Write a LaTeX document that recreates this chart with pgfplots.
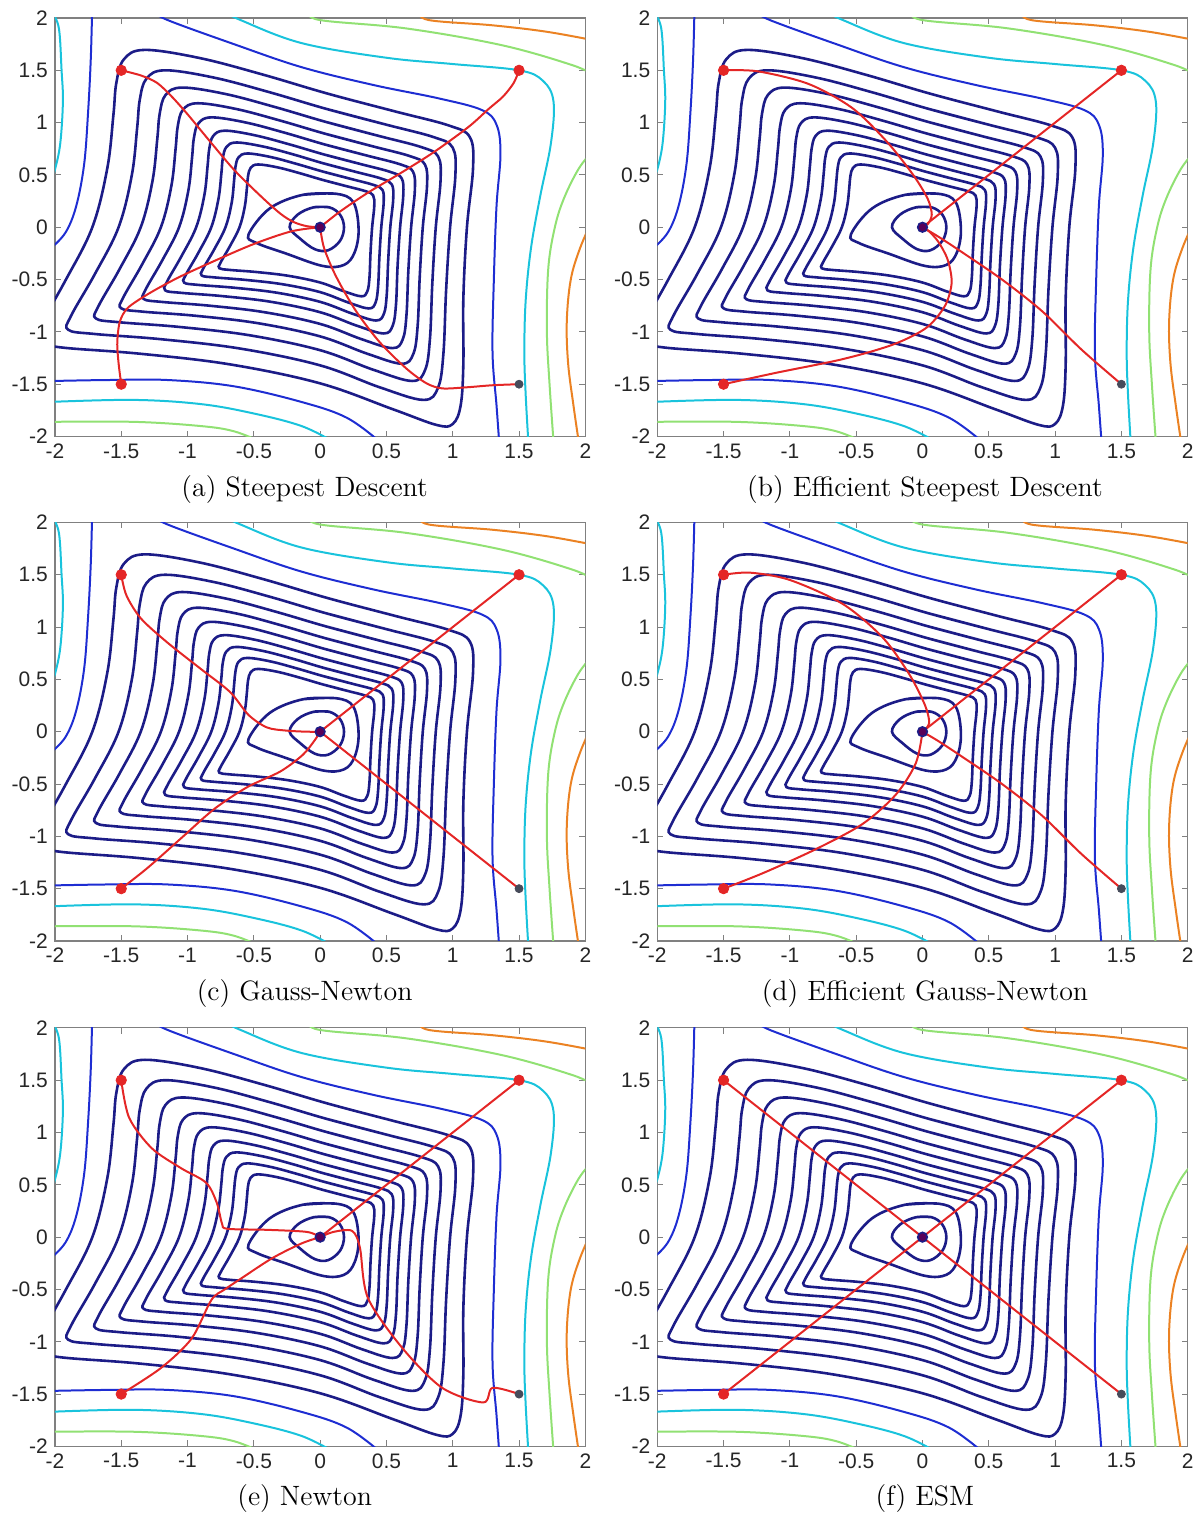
\documentclass[border=0pt]{standalone}
\usepackage{pgfplots}
\pgfplotsset{compat=1.18}
\usepackage{fontspec}
\setsansfont{Liberation Sans}
\definecolor{cnavy}{RGB}{28,28,135}
\definecolor{cblue}{RGB}{30,45,210}
\definecolor{ccyan}{RGB}{25,195,220}
\definecolor{cgreen}{RGB}{145,225,115}
\definecolor{corange}{RGB}{235,130,35}
\definecolor{cred}{RGB}{228,38,38}
\definecolor{cgrey}{RGB}{70,75,90}
\pgfplotsset{
 panel/.style={scale only axis, width=265.5pt, height=209.5pt, anchor=south west,
  xmin=-2,xmax=2,ymin=-2,ymax=2,
  xtick={-2,-1.5,-1,-0.5,0,0.5,1,1.5,2}, ytick={-2,-1.5,-1,-0.5,0,0.5,1,1.5,2},
  xticklabels={-2,-1.5,-1,-0.5,0,0.5,1,1.5,2}, yticklabels={-2,-1.5,-1,-0.5,0,0.5,1,1.5,2},
  tick label style={font=\sffamily\fontsize{10.5}{11}\selectfont, text=black!85},
  axis line style={black!50, line width=0.6pt}, tick style={black!50, line width=0.5pt},
  major tick length=3pt, clip=true},
 cn/.style={cnavy, smooth, tension=0.6, line width=1.3pt, no markers},
 co/.style={smooth, tension=0.6, line width=1pt, no markers},
 rp/.style={cred, smooth, tension=0.5, line width=1pt, no markers},
}
\newcommand{\contours}{%
% C1
\addplot[cn] coordinates {(-0.05,0.19) (0.07,0.19) (0.15,0.12) (0.18,0.0) (0.15,-0.13) (0.06,-0.22) (-0.04,-0.21) (-0.15,-0.11) (-0.23,0.0) (-0.17,0.12) (-0.05,0.19) (0.07,0.19)};
% C2
\addplot[cn] coordinates {(-0.13,0.31) (0.12,0.32) (0.25,0.24) (0.29,-0.02) (0.26,-0.24) (0.18,-0.36) (0.02,-0.37) (-0.26,-0.25) (-0.48,-0.15) (-0.54,-0.07) (-0.38,0.18) (-0.13,0.31) (0.12,0.32)};
% C3
\addplot[cn] coordinates {(0.02,0.452) (0.20,0.392) (0.344,0.344) (0.40,0.304) (0.408,0.20) (0.392,0) (0.38,-0.24) (0.372,-0.48) (0.356,-0.612) (0.312,-0.66) (0.18,-0.612) (0,-0.528) (-0.24,-0.464) (-0.48,-0.428) (-0.68,-0.408) (-0.76,-0.392) (-0.752,-0.34) (-0.68,-0.18) (-0.608,0) (-0.568,0.20) (-0.552,0.38) (-0.544,0.488) (-0.524,0.568) (-0.468,0.60) (-0.32,0.572) (-0.152,0.516) (0.02,0.452) (0.20,0.392)};
% C4
\addplot[cn] coordinates {(0.024,0.531) (0.235,0.461) (0.404,0.404) (0.47,0.357) (0.479,0.235) (0.461,0) (0.447,-0.282) (0.437,-0.564) (0.418,-0.719) (0.367,-0.776) (0.212,-0.719) (0,-0.620) (-0.282,-0.545) (-0.564,-0.503) (-0.799,-0.479) (-0.893,-0.461) (-0.884,-0.40) (-0.799,-0.212) (-0.714,0) (-0.667,0.235) (-0.649,0.447) (-0.639,0.573) (-0.616,0.667) (-0.550,0.705) (-0.376,0.672) (-0.179,0.606) (0.024,0.531) (0.235,0.461)};
% C5
\addplot[cn] coordinates {(0.027,0.610) (0.27,0.529) (0.464,0.464) (0.54,0.410) (0.551,0.27) (0.529,0) (0.513,-0.324) (0.502,-0.648) (0.481,-0.826) (0.421,-0.891) (0.243,-0.826) (0,-0.713) (-0.324,-0.626) (-0.648,-0.578) (-0.918,-0.551) (-1.026,-0.529) (-1.015,-0.459) (-0.918,-0.243) (-0.821,0) (-0.767,0.27) (-0.745,0.513) (-0.734,0.659) (-0.707,0.767) (-0.632,0.81) (-0.432,0.772) (-0.205,0.697) (0.027,0.610) (0.27,0.529)};
% C6
\addplot[cn] coordinates {(0.031,0.695) (0.308,0.603) (0.529,0.529) (0.615,0.467) (0.627,0.308) (0.603,0) (0.584,-0.369) (0.572,-0.738) (0.547,-0.941) (0.480,-1.015) (0.277,-0.941) (0,-0.812) (-0.369,-0.713) (-0.738,-0.658) (-1.046,-0.627) (-1.169,-0.603) (-1.156,-0.523) (-1.046,-0.277) (-0.935,0) (-0.873,0.308) (-0.849,0.584) (-0.836,0.750) (-0.806,0.873) (-0.720,0.923) (-0.492,0.879) (-0.234,0.793) (0.031,0.695) (0.308,0.603)};
% C7
\addplot[cn] coordinates {(0.035,0.791) (0.35,0.686) (0.602,0.602) (0.70,0.532) (0.714,0.35) (0.686,0) (0.665,-0.42) (0.651,-0.84) (0.623,-1.071) (0.546,-1.155) (0.315,-1.071) (0,-0.924) (-0.42,-0.812) (-0.84,-0.749) (-1.19,-0.714) (-1.33,-0.686) (-1.316,-0.595) (-1.19,-0.315) (-1.064,0) (-0.994,0.35) (-0.966,0.665) (-0.952,0.854) (-0.917,0.994) (-0.819,1.05) (-0.56,1.001) (-0.266,0.903) (0.035,0.791) (0.35,0.686)};
% C8
\addplot[cn] coordinates {(0.040,0.893) (0.395,0.774) (0.679,0.679) (0.79,0.600) (0.806,0.395) (0.774,0) (0.751,-0.474) (0.735,-0.948) (0.703,-1.209) (0.616,-1.304) (0.356,-1.209) (0,-1.043) (-0.474,-0.916) (-0.948,-0.845) (-1.343,-0.806) (-1.501,-0.774) (-1.485,-0.672) (-1.343,-0.356) (-1.201,0) (-1.122,0.395) (-1.090,0.751) (-1.074,0.964) (-1.035,1.122) (-0.924,1.185) (-0.632,1.130) (-0.300,1.019) (0.040,0.893) (0.395,0.774)};
% C9
\addplot[cn] coordinates {(0.045,1.006) (0.445,0.872) (0.765,0.765) (0.89,0.676) (0.908,0.445) (0.872,0) (0.846,-0.534) (0.828,-1.068) (0.792,-1.362) (0.694,-1.469) (0.401,-1.362) (0,-1.175) (-0.534,-1.032) (-1.068,-0.952) (-1.513,-0.908) (-1.691,-0.872) (-1.673,-0.757) (-1.513,-0.401) (-1.353,0) (-1.264,0.445) (-1.228,0.846) (-1.210,1.086) (-1.166,1.264) (-1.041,1.335) (-0.712,1.273) (-0.338,1.148) (0.045,1.006) (0.445,0.872)};
% C10
\addplot[cn] coordinates {(0.05,1.13) (0.50,0.98) (0.86,0.86) (1.00,0.76) (1.02,0.50) (0.98,0.00) (0.95,-0.60) (0.93,-1.20) (0.89,-1.53) (0.78,-1.65) (0.45,-1.53) (0.00,-1.32) (-0.60,-1.16) (-1.20,-1.07) (-1.70,-1.02) (-1.90,-0.98) (-1.88,-0.85) (-1.70,-0.45) (-1.52,0.00) (-1.42,0.50) (-1.38,0.95) (-1.36,1.22) (-1.31,1.42) (-1.17,1.50) (-0.80,1.43) (-0.38,1.29) (0.05,1.13) (0.50,0.98)};
% C11 (open at left)
\addplot[cn] coordinates {(-2.147,-1.107) (-1.921,-1.153) (-1.356,-1.209) (-0.678,-1.311) (0,-1.492) (0.55,-1.74) (0.88,-1.89) (1.0,-1.88) (1.06,-1.7) (1.08,-1.3) (1.08,-0.678) (1.107,0) (1.153,0.565) (1.13,0.859) (0.972,0.972) (0.565,1.107) (0.057,1.277) (-0.429,1.458) (-0.904,1.616) (-1.322,1.695) (-1.480,1.605) (-1.537,1.379) (-1.559,1.074) (-1.605,0.565) (-1.718,0) (-1.921,-0.509) (-2.124,-0.961)};
% blue
\addplot[co,cblue] coordinates {(-1.72,2.05) (-1.73,1.6) (-1.75,1.1) (-1.78,0.6) (-1.84,0.2) (-1.92,-0.05) (-2.03,-0.2)};
\addplot[co,cblue] coordinates {(-1.25,2.06) (-1.15,1.98) (-0.65,1.75) (-0.14,1.53) (0.4,1.36) (0.9,1.23) (1.22,1.12) (1.33,0.98) (1.36,0.7) (1.33,0.2) (1.31,-0.5) (1.30,-1.2) (1.33,-1.7) (1.35,-2.05)};
\addplot[co,cblue] coordinates {(-2.05,-1.47) (-1.6,-1.46) (-1.15,-1.46) (-0.65,-1.52) (-0.14,-1.67) (0.2,-1.82) (0.45,-2.05)};
% cyan
\addplot[co,ccyan] coordinates {(-2.02,2.05) (-1.97,1.9) (-1.95,1.5) (-1.94,1.2) (-1.96,0.8) (-2.0,0.55) (-2.03,0.45)};
\addplot[co,ccyan] coordinates {(-0.72,2.06) (-0.6,1.98) (-0.14,1.76) (0.5,1.62) (1.0,1.56) (1.5,1.5) (1.68,1.40) (1.76,1.2) (1.74,0.8) (1.66,0.3) (1.59,-0.2) (1.55,-0.7) (1.54,-1.2) (1.55,-1.6) (1.57,-2.05)};
\addplot[co,ccyan] coordinates {(-2.05,-1.67) (-1.41,-1.65) (-0.9,-1.69) (-0.5,-1.78) (-0.14,-1.9) (0.1,-2.05)};
% green
\addplot[co,cgreen] coordinates {(-0.08,2.06) (0.0,1.98) (0.65,1.9) (1.37,1.74) (1.9,1.55) (2.05,1.46)};
\addplot[co,cgreen] coordinates {(2.05,0.72) (1.95,0.56) (1.84,0.28) (1.77,0.0) (1.72,-0.4) (1.71,-1.0) (1.73,-1.5) (1.76,-2.05)};
\addplot[co,cgreen] coordinates {(-2.05,-1.86) (-1.4,-1.86) (-0.9,-1.9) (-0.65,-1.95) (-0.45,-2.05)};
% orange
\addplot[co,corange] coordinates {(0.75,2.06) (0.82,1.98) (1.3,1.93) (1.7,1.87) (2.05,1.79)};
\addplot[co,corange] coordinates {(2.05,0.06) (1.96,-0.2) (1.89,-0.5) (1.86,-0.9) (1.87,-1.3) (1.91,-1.7) (1.95,-2.05)};
}
\newcommand{\markers}{%
\addplot[only marks, mark=*, mark size=2.6pt, mark options={fill=cred, draw=cred}] coordinates {(-1.5,1.5) (1.5,1.5) (-1.5,-1.5)};
\addplot[only marks, mark=*, mark size=2pt, mark options={fill=cgrey, draw=cgrey}] coordinates {(1.5,-1.5)};
\addplot[only marks, mark=*, mark size=2.4pt, mark options={fill=violet!70!black, draw=cnavy, line width=0.8pt}] coordinates {(0,0)};
}
\begin{document}
\begin{tikzpicture}
\path (0,0) rectangle (602pt,-759.5pt);
% (a)
\begin{axis}[panel, at={(27.5pt,-218.5pt)}]
\contours
\addplot[rp] coordinates {(-1.5,1.5) (-1.35,1.45) (-1.23,1.38) (-1.12,1.25) (-1.0,1.08) (-0.85,0.85) (-0.65,0.55) (-0.45,0.30) (-0.3,0.13) (-0.2,0.05) (-0.1,0.01) (0,0)};
\addplot[rp] coordinates {(1.5,1.5) (1.46,1.38) (1.38,1.25) (1.27,1.13) (1.12,0.96) (0.86,0.72) (0.61,0.52) (0.36,0.33) (0.15,0.15) (0,0)};
\addplot[rp] coordinates {(-1.5,-1.5) (-1.52,-1.3) (-1.53,-1.1) (-1.51,-0.9) (-1.45,-0.77) (-1.3,-0.64) (-1.1,-0.5) (-0.9,-0.38) (-0.52,-0.17) (-0.22,-0.04) (0,0)};
\addplot[rp] coordinates {(1.5,-1.5) (1.3,-1.51) (1.1,-1.53) (0.92,-1.54) (0.8,-1.49) (0.65,-1.35) (0.45,-1.1) (0.27,-0.8) (0.12,-0.47) (0.03,-0.2) (0,0)};
\markers
\end{axis}
% (b)
\begin{axis}[panel, at={(329pt,-218.5pt)}]
\contours
\addplot[rp] coordinates {(-1.5,1.5) (-1.24,1.49) (-0.86,1.37) (-0.53,1.14) (-0.27,0.82) (-0.07,0.5) (0.04,0.27) (0.07,0.12) (0.04,0.03) (0,0)};
\addplot[rp] coordinates {(1.5,1.5) (0,0)};
\addplot[rp] coordinates {(-1.5,-1.5) (-1.1,-1.39) (-0.6,-1.26) (-0.22,-1.12) (0.03,-0.96) (0.17,-0.75) (0.22,-0.53) (0.19,-0.31) (0.12,-0.14) (0.05,-0.04) (0,0)};
\addplot[rp] coordinates {(1.5,-1.5) (1.2,-1.17) (0.9,-0.8) (0.6,-0.5) (0.3,-0.24) (0.12,-0.09) (0,0)};
\markers
\end{axis}
% (c)
\begin{axis}[panel, at={(27.5pt,-471pt)}]
\contours
\addplot[rp] coordinates {(-1.5,1.5) (-1.46,1.3) (-1.35,1.08) (-1.15,0.85) (-0.9,0.6) (-0.68,0.38) (-0.54,0.16) (-0.4,0.04) (-0.25,0.01) (-0.1,0.0) (0,0)};
\addplot[rp] coordinates {(1.5,1.5) (0,0)};
\addplot[rp] coordinates {(-1.5,-1.5) (-1.3,-1.3) (-1.05,-1.02) (-0.8,-0.74) (-0.55,-0.53) (-0.3,-0.38) (-0.13,-0.22) (-0.04,-0.08) (0,0)};
\addplot[rp] coordinates {(1.5,-1.5) (0,0)};
\markers
\end{axis}
% (d)
\begin{axis}[panel, at={(329pt,-471pt)}]
\contours
\addplot[rp] coordinates {(-1.5,1.5) (-1.3,1.52) (-1.0,1.45) (-0.6,1.22) (-0.3,0.9) (-0.1,0.55) (0.02,0.25) (0.05,0.08) (0,0)};
\addplot[rp] coordinates {(1.5,1.5) (0,0)};
\addplot[rp] coordinates {(-1.5,-1.5) (-1.2,-1.35) (-0.8,-1.12) (-0.45,-0.88) (-0.2,-0.6) (-0.05,-0.3) (0,0)};
\addplot[rp] coordinates {(1.5,-1.5) (1.2,-1.17) (0.9,-0.8) (0.6,-0.5) (0.3,-0.24) (0.12,-0.09) (0,0)};
\markers
\end{axis}
% (e)
\begin{axis}[panel, at={(27.5pt,-724pt)}]
\contours
\addplot[rp] coordinates {(-1.5,1.5) (-1.44,1.14) (-1.27,0.85) (-1.05,0.66) (-0.86,0.52) (-0.78,0.33) (-0.74,0.13) (-0.7,0.08) (-0.4,0.07) (-0.1,0.05) (0,0)};
\addplot[rp] coordinates {(1.5,1.5) (0,0)};
\addplot[rp] coordinates {(-1.5,-1.5) (-1.2,-1.25) (-0.97,-0.97) (-0.82,-0.6) (-0.72,-0.5) (-0.59,-0.39) (-0.36,-0.2) (-0.14,-0.06) (0,0)};
\addplot[rp] coordinates {(1.5,-1.5) (1.3,-1.44) (1.23,-1.58) (0.92,-1.44) (0.62,-1.06) (0.36,-0.58) (0.3,-0.1) (0.24,0.06) (0.1,0.05) (0,0)};
\markers
\end{axis}
% (f)
\begin{axis}[panel, at={(329pt,-724pt)}]
\contours
\addplot[rp] coordinates {(-1.5,1.5) (0,0)};
\addplot[rp] coordinates {(1.5,1.5) (0,0)};
\addplot[rp] coordinates {(-1.5,-1.5) (0,0)};
\addplot[rp] coordinates {(1.5,-1.5) (0,0)};
\markers
\end{axis}
\begin{scope}[every node/.style={font=\fontsize{14}{16}\selectfont}]
\node at (152.5pt,-245pt) {(a) Steepest Descent};
\node at (463pt,-245pt) {(b) Efficient Steepest Descent};
\node at (152.5pt,-497.5pt) {(c) Gauss-Newton};
\node at (463pt,-497.5pt) {(d) Efficient Gauss-Newton};
\node at (152.5pt,-750pt) {(e) Newton};
\node at (463pt,-750pt) {(f) ESM};
\end{scope}
\end{tikzpicture}
\end{document}
